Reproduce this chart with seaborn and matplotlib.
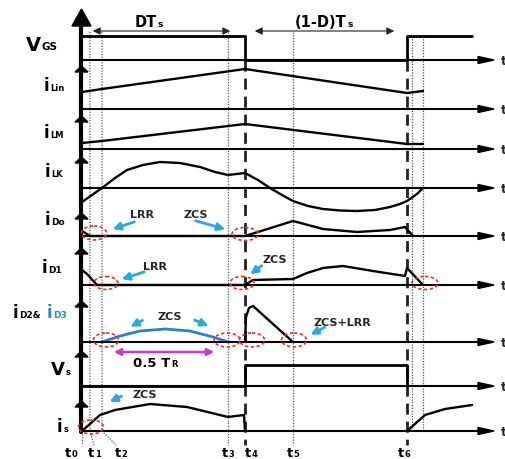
import numpy as np
import pandas as pd
import seaborn as sns
import matplotlib.pyplot as plt
from matplotlib.patches import Ellipse, Polygon

sns.set_theme(style="white")
plt.rcParams['font.family'] = ['DejaVu Sans']

# ---------------- data (time in diagram units, amplitude above row baseline) ----------------
time_labels = ['t0', 't1', 't2', 't3', 't4', 't5', 't6']
time_pos = [82, 90, 102, 228, 245, 293, 407]
extra_marks = [412, 423]

vgs_t = [82, 245, 245, 407, 407, 472]
vgs_v = [24, 24, 0, 0, 24, 24]

ilin_t = [82, 102, 245, 407, 423]
ilin_v = [17, 20, 40, 16, 18]

ilm_t = [82, 102, 245, 407, 423]
ilm_v = [6, 8, 25, 5, 5]

ilk_t = [82, 92, 102, 115, 127, 143, 160, 180, 200, 215, 228, 245, 258, 270, 282,
         293, 308, 323, 340, 357, 375, 390, 400, 407, 417, 423]
ilk_v = [-14, -7, 0, 10, 18, 23, 26, 25, 21, 16, 13, 15, 8, 0, -7,
         -13, -18, -21, -22.5, -23, -22, -19, -16, -13, -6, 0]

id0_t = [82, 90, 245, 293, 323, 357, 390, 405, 413]
id0_v = [5, 0, 0, 15, 7, 4, 6, 9, 0]

id1_t = [82, 87, 97, 245, 253, 293, 307, 323, 343, 373, 405, 407, 423]
id1_v = [15, 11, 0, 0, 5, 6, 12, 17, 19, 14, 9, 17, 0]

id2_t = [102, 120, 140, 165, 190, 213, 228]
id2_v = [0, 6, 11, 13, 11, 5, 0]

id3_t = [245, 246, 249, 253, 293]
id3_v = [0, 25, 34, 36, 0]

vs_t = [82, 245, 245, 407, 407]
vs_v = [0, 0, 21, 21, 0]

is_t1 = [82, 100, 115, 150, 187, 228, 244, 245]
is_v1 = [0, 16, 21, 27, 24, 14, 16, 0]
is_t2 = [407, 425, 445, 472]
is_v2 = [0, 16, 22, 26]

# ---------------- layout ----------------
W, H = 506, 460
fig = plt.figure(figsize=(W / 100, H / 100), dpi=100)
ax = fig.add_axes([0, 0, 1, 1])
ax.set_xlim(0, W)
ax.set_ylim(H, 0)
ax.axis('off')

base = {'VGS': 61, 'iLin': 110, 'iLM': 150, 'iLK': 189, 'iD0': 237,
        'iD1': 286, 'iD2': 343, 'Vs': 387, 'is': 432}
row_tips = [67, 117, 158, 214, 249, 302, 352, 402]

AX_X = 81
X_END = 494
BLUE_ARROW = '#2aa8e2'
RED = '#e53030'


def wave(t, v, row, color='black', lw=1.7):
    df = pd.DataFrame({'t': t, 'y': base[row] - np.asarray(v, dtype=float)})
    sns.lineplot(data=df, x='t', y='y', sort=False, estimator=None, color=color,
                 lw=lw, ax=ax, legend=False)


# vertical dotted / dashed time markers
dot = dict(color='#555555', lw=0.9, ls=(0, (1, 1.2)))
for i, x in enumerate(time_pos):
    lab = time_labels[i]
    if lab in ('t4', 't6'):
        ax.plot([x, x], [61, 446], color='#222222', lw=2.0, ls=(0, (4, 2.5)), zorder=2)
    elif lab == 't0':
        ax.plot([x, x], [432, 446], **dot)
    elif lab == 't1':
        ax.plot([x, x, 94], [33, 432, 446], **dot)
    elif lab == 't2':
        ax.plot([x, x, 116], [33, 432, 446], **dot)
    else:
        ax.plot([x, x], [33, 446], **dot)
for x in extra_marks:
    ax.plot([x, x], [37, 432], **dot)

# baselines with arrows
for row, y in base.items():
    ax.plot([AX_X, 480], [y, y], color='black', lw=1.5, zorder=3)
    ax.add_patch(Polygon([[478, y - 3.5], [478, y + 3.5], [X_END, y]], closed=True,
                         color='black', zorder=3))
    ax.text(501, y + 4, 't', fontsize=9, fontweight='bold', ha='left', va='baseline')

# main vertical axis
ax.plot([AX_X, AX_X], [22, 433], color='black', lw=3, zorder=4)
ax.add_patch(Polygon([[72, 27], [91, 27], [81.5, 10]], closed=True, color='black', zorder=4))
for tip in row_tips:
    ax.add_patch(Polygon([[75, tip + 6], [88, tip + 6], [81.5, tip]], closed=True,
                         color='black', zorder=4))

# waveforms
wave(vgs_t, vgs_v, 'VGS', lw=2)
wave(ilin_t, ilin_v, 'iLin')
wave(ilm_t, ilm_v, 'iLM')
wave(ilk_t, ilk_v, 'iLK')
wave(id0_t, id0_v, 'iD0')
wave(id1_t, id1_v, 'iD1')
wave(id2_t, id2_v, 'iD2', color='#2b7fd0', lw=2)
wave(id3_t, id3_v, 'iD2')
wave(vs_t, vs_v, 'Vs', lw=2)
wave(is_t1, is_v1, 'is')
wave(is_t2, is_v2, 'is')


def sublabel(x, y, main, sub, size, subsize, color='black', subcolor=None):
    t = ax.text(x, y, main, fontsize=size, fontweight='bold', color=color,
                ha='left', va='baseline')
    # bbox bottom is (baseline - descent); lift the subscript back onto the baseline
    ax.annotate(sub, xy=(1, 0), xycoords=t, xytext=(0.4, 0.236 * size),
                textcoords='offset points', fontsize=subsize, fontweight='bold',
                color=subcolor or color, ha='left', va='baseline')
    return t


# row labels
sublabel(26, 51, 'V', 'GS', 14, 7.5)
sublabel(44, 91, 'i', 'Lin', 12, 6)
sublabel(44, 138, 'i', 'LM', 12, 6)
sublabel(45, 177, 'i', 'LK', 12, 6)
sublabel(45, 225, 'i', 'Do', 12, 6.5)
sublabel(42, 273, 'i', 'D1', 12, 6.5)
sublabel(13, 318, 'i', 'D2&', 12, 6.5)
sublabel(47, 318, 'i', 'D3', 12, 6.5, color='#2f86d6')
sublabel(51, 375, 'V', 's', 13, 6)
sublabel(57, 432, 'i', 's', 12, 6)

# bottom time labels
bottom_x = [65, 88, 115, 222, 245, 287, 398]
for lab, x in zip(time_labels, bottom_x):
    sublabel(x, 457, lab[0], lab[1], 9.5, 6)

# period dimension arrows
ax.annotate('', xy=(233, 32), xytext=(90, 32),
            arrowprops=dict(arrowstyle='<|-|>', color='#222222', lw=0.8, mutation_scale=11))
ax.annotate('', xy=(397, 32), xytext=(252, 32),
            arrowprops=dict(arrowstyle='<|-|>', color='#222222', lw=0.8, mutation_scale=11))
sublabel(135, 27, 'DT', 's', 10.5, 6.5)
sublabel(295, 27, '(1-D)T', 's', 10.5, 6.5)

# red dashed circles
ellipses = [(94, 234, 25, 14), (245, 235, 26, 13), (106, 284, 24, 13), (242, 284, 24, 13),
            (425, 284, 26, 13), (106, 341, 25, 14), (227, 341, 26, 14), (252, 341, 25, 14),
            (294, 341, 25, 14), (91, 428, 25, 14)]
for cx, cy, w, h in ellipses:
    ax.add_patch(Ellipse((cx, cy), w, h, fill=False, edgecolor=RED, lw=1.2,
                         ls=(0, (2, 1.5)), zorder=5))


def blue_arrow(tail, tip):
    ax.annotate('', xy=tip, xytext=tail,
                arrowprops=dict(arrowstyle='-|>', color=BLUE_ARROW, lw=2, mutation_scale=11))


def note(x, y, s, size=8):
    ax.text(x, y, s, fontsize=size, fontweight='bold', ha='center', va='center')


note(142, 215, 'LRR'); blue_arrow((137, 222), (110, 231))
note(196, 215, 'ZCS'); blue_arrow((193, 221), (228, 231))
note(155, 267, 'LRR'); blue_arrow((147, 272), (119, 281))
note(275, 260, 'ZCS'); blue_arrow((264, 265), (248, 277))
note(170, 317, 'ZCS'); blue_arrow((145, 320), (128, 329)); blue_arrow((192, 320), (211, 328))
note(342, 323, 'ZCS+LRR'); blue_arrow((327, 327), (308, 337))
note(145, 395, 'ZCS'); blue_arrow((124, 396), (107, 404))

ax.annotate('', xy=(217, 353), xytext=(111, 353),
            arrowprops=dict(arrowstyle='<|-|>', color='#c23cc8', lw=1.8, mutation_scale=10))
sublabel(133, 367, '0.5 T', 'R', 9.5, 6)

fig.savefig('out.png', dpi=100)
